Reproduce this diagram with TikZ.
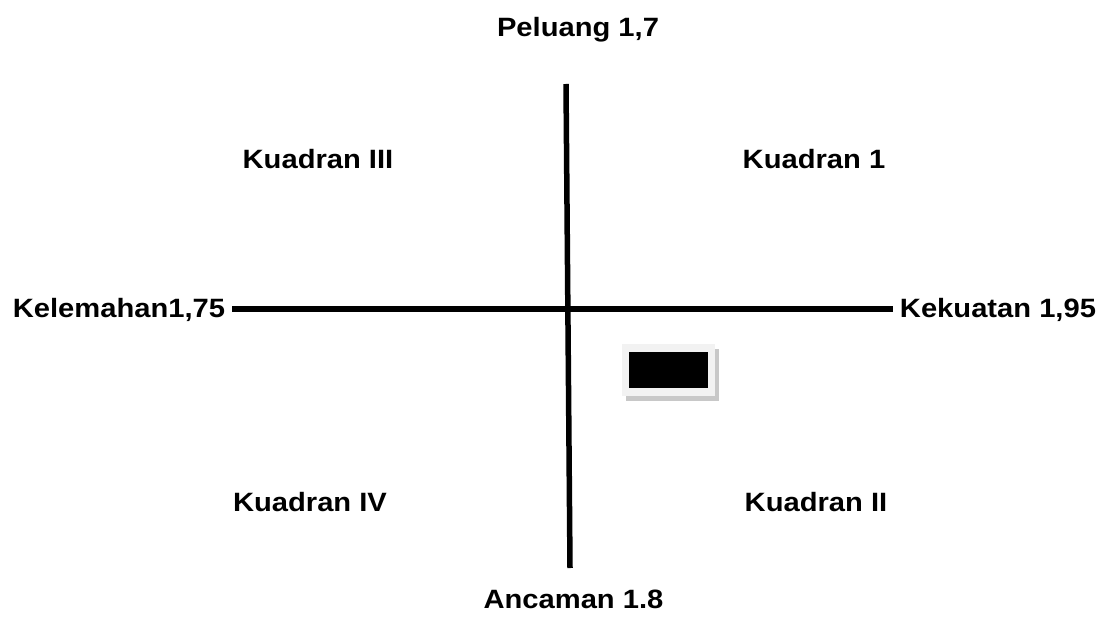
\documentclass[tikz,border=0pt]{standalone}
\usepackage{fontspec}
\setmainfont{Liberation Sans}
\definecolor{framegray}{RGB}{242,242,242}
\definecolor{shadowgray}{RGB}{200,200,200}
\tikzset{
  lbl/.style={anchor=base, inner sep=0pt, font=\fontsize{26.5}{31}\selectfont\bfseries},
  axis/.style={line width=5.5pt, black},
}
\newcommand{\wide}[1]{\scalebox{1.1}[1]{#1}}
\begin{document}
\begin{tikzpicture}[x=1pt,y=-1pt]
\useasboundingbox (0,0) rectangle (1097,620);
% axes
\coordinate (vtop) at (566,84);
\coordinate (vbot) at (570,568);
\coordinate (hleft) at (232,309);
\coordinate (hright) at (893,309);
\draw[axis] (vtop) -- (vbot);
\draw[axis] (hleft) -- (hright);
% labels
\node[lbl] (peluang) at (578,37) {\wide{Peluang 1,7}};
\node[lbl] (k3) at (318,169) {\wide{Kuadran III}};
\node[lbl] (k1) at (814,169) {\wide{Kuadran 1}};
\node[lbl] (kel) at (119,317) {\wide{Kelemahan1,75}};
\node[lbl] (kek) at (998,317) {\wide{Kekuatan 1,95}};
\node[lbl] (k4) at (310,511) {\wide{Kuadran IV}};
\node[lbl] (k2) at (816,511) {\wide{Kuadran II}};
\node[lbl] (anc) at (573.5,608) {\wide{Ancaman 1.8}};
% small box with shadow
\fill[shadowgray] (626,349) rectangle (719,401);
\fill[framegray] (622,344) rectangle (715,396);
\fill[black] (629,352) rectangle (708,388);
\end{tikzpicture}
\end{document}
